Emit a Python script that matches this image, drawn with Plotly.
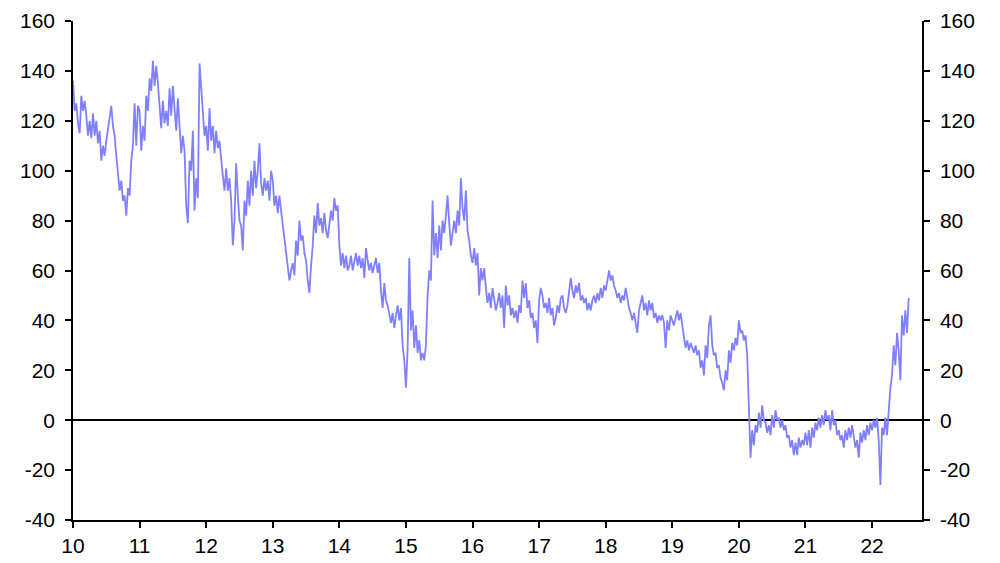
import plotly.graph_objects as go

# Values, 40 readings per year (step = 1/40 year)
v2010 = [136, 124, 127, 119, 115, 130, 124, 128, 122, 114, 120, 113, 123, 114, 120, 111, 116, 104, 110, 106,
         112, 117, 122, 126, 118, 114, 106, 97, 92, 96, 88, 90, 82, 93, 90, 104, 110, 127, 110, 126]
v2011 = [124, 108, 118, 112, 130, 124, 137, 132, 144, 134, 142, 135, 126, 117, 128, 119, 124, 118, 133, 122,
         134, 125, 116, 129, 117, 107, 114, 108, 86, 79, 104, 100, 116, 84, 97, 89, 143, 134, 122, 114]
v2012 = [118, 108, 125, 112, 118, 107, 116, 109, 112, 103, 98, 92, 101, 92, 97, 88, 70, 80, 103, 90,
         80, 78, 68, 88, 82, 96, 86, 100, 90, 104, 93, 100, 111, 95, 90, 97, 92, 96, 88, 100]
v2013 = [96, 86, 90, 83, 90, 84, 78, 72, 68, 62, 56, 60, 63, 58, 72, 66, 80, 72, 74, 67,
         64, 56, 51, 62, 70, 82, 75, 87, 78, 81, 75, 83, 76, 73, 79, 84, 80, 89, 84, 86]
v2014 = [70, 62, 67, 61, 66, 60, 62, 66, 60, 64, 67, 62, 66, 61, 65, 57, 69, 64, 60, 63,
         59, 62, 65, 59, 63, 52, 45, 55, 48, 46, 42, 39, 43, 37, 42, 46, 40, 45, 30, 24]
v2015 = [13, 28, 65, 36, 44, 29, 38, 27, 32, 24, 27, 24, 30, 50, 60, 56, 88, 66, 75, 65,
         78, 68, 80, 75, 82, 90, 79, 70, 75, 80, 75, 84, 78, 97, 85, 80, 92, 76, 72, 66]
v2016 = [63, 69, 62, 67, 50, 61, 56, 61, 53, 47, 51, 45, 53, 48, 44, 47, 51, 45, 50, 37,
         54, 46, 50, 42, 45, 41, 44, 39, 46, 43, 56, 49, 55, 45, 48, 41, 43, 37, 40, 31]
v2017 = [48, 53, 50, 45, 47, 43, 49, 42, 45, 38, 41, 46, 43, 49, 50, 45, 43, 46, 53, 57,
         52, 49, 54, 51, 55, 48, 50, 47, 49, 44, 47, 44, 48, 50, 47, 51, 48, 53, 49, 54]
v2018 = [52, 57, 60, 56, 58, 54, 52, 49, 51, 47, 50, 48, 53, 49, 45, 43, 40, 43, 38, 35,
         44, 47, 50, 44, 47, 42, 48, 44, 47, 41, 43, 39, 42, 40, 42, 39, 29, 40, 36, 42]
v2019 = [40, 38, 41, 44, 40, 43, 38, 33, 29, 32, 28, 31, 29, 27, 30, 26, 28, 21, 24, 18,
         30, 25, 38, 42, 30, 26, 27, 21, 22, 17, 15, 12, 20, 16, 28, 23, 31, 28, 33, 30]
v2020 = [40, 35, 36, 32, 34, 26, 5, -15, -4, -10, -2, -5, 3, -3, 6, 0, -1, -5, -2, -6,
         2, -3, 4, 0, 1, -3, 0, -4, -2, -7, -6, -11, -8, -14, -9, -14, -7, -11, -8, -10]
v2021 = [-5, -10, -4, -11, -3, -7, -1, -4, 1, -3, 2, -2, 4, 0, 2, -4, 4, -2, 0, -6,
         -4, -8, -6, -11, -4, -8, -3, -7, -2, -6, -11, -8, -15, -5, -9, -4, -8, -2, -6, -1]
v2022 = [-4, 0, -3, 1, -8, -26, -3, -6, 1, -6, 4, 13, 18, 30, 22, 35, 28, 16, 42, 34,
         44, 35, 49]

years = [2010, 2011, 2012, 2013, 2014, 2015, 2016, 2017, 2018, 2019, 2020, 2021, 2022]
year_labels = ["10", "11", "12", "13", "14", "15", "16", "17", "18", "19", "20", "21", "22"]
y_ticks = [-40, -20, 0, 20, 40, 60, 80, 100, 120, 140, 160]
y_labels = ["-40", "-20", "0", "20", "40", "60", "80", "100", "120", "140", "160"]

values = v2010 + v2011 + v2012 + v2013 + v2014 + v2015 + v2016 + v2017 + v2018 + v2019 + v2020 + v2021 + v2022
step = 1 / 40
xs = [2010 + i * step for i in range(len(values))]

font = dict(family="Liberation Sans, Arial, sans-serif", size=21, color="black")

fig = go.Figure()
fig.add_trace(go.Scatter(x=xs, y=values, mode="lines",
                         line=dict(color="#8080FF", width=1.8), showlegend=False, hoverinfo="skip"))
fig.add_trace(go.Scatter(x=[xs[0]], y=[values[0]], mode="lines", yaxis="y2",
                         line=dict(width=0), showlegend=False, hoverinfo="skip"))

axis_common = dict(showline=True, linecolor="black", linewidth=1.5,
                   ticks="outside", ticklen=6, tickwidth=1.5, tickcolor="black",
                   showgrid=False, tickfont=font, automargin=False)

fig.update_layout(
    width=1000, height=563,
    margin=dict(l=65, r=86, t=13, b=51),
    paper_bgcolor="white", plot_bgcolor="white",
    font=font,
    xaxis=dict(range=[2010, 2022.75], tickvals=years, ticktext=year_labels,
               zeroline=False, **axis_common),
    yaxis=dict(range=[-40, 160], tickvals=y_ticks, ticktext=y_labels, ticklabelstandoff=6,
               zeroline=True, zerolinecolor="black", zerolinewidth=1.5, **axis_common),
    yaxis2=dict(range=[-40, 160], tickvals=y_ticks, ticktext=y_labels, overlaying="y", side="right",
                ticklabelstandoff=6, zeroline=False, **axis_common),
)

fig.write_html("out.html")
